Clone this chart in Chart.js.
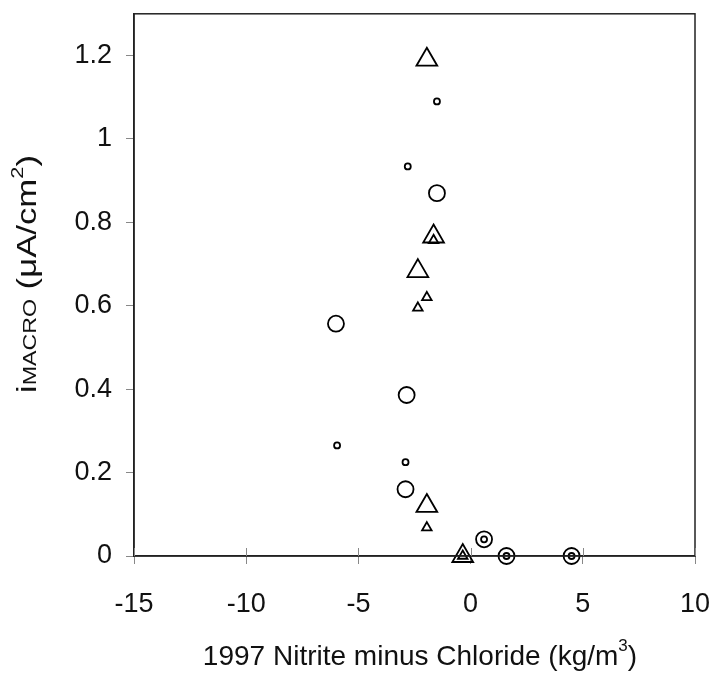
<!DOCTYPE html>
<html>
<head>
<meta charset="utf-8">
<script src="https://cdn.jsdelivr.net/npm/chart.js@4.4.0/dist/chart.umd.min.js"></script>
<style>
  html, body { margin: 0; padding: 0; background: #fff; }
  #wrap { width: 713px; height: 679px; }
</style>
</head>
<body>
<div id="wrap"><canvas id="canvas" width="713" height="679"></canvas></div>
<script>
// data
const bigCircleX = [-1.5, -6.0, -2.85, -2.9, 0.6, 1.6, 4.5];
const bigCircleY = [0.87, 0.557, 0.386, 0.16, 0.04, 0, 0];
const smallCircleX = [-1.5, -2.8, -5.95, -2.9, 0.6, 1.6, 4.5];
const smallCircleY = [1.09, 0.934, 0.265, 0.225, 0.04, 0, 0];
const bigTriX = [-1.95, -1.65, -2.35, -1.95, -0.35];
const bigTriY = [1.19, 0.766, 0.683, 0.12, 0];
const smallTriX = [-1.65, -1.95, -2.35, -1.95, -0.35];
const smallTriY = [0.757, 0.62, 0.595, 0.068, 0];

const xTicks = [-15, -10, -5, 0, 5, 10];
const yTicks = [0, 0.2, 0.4, 0.6, 0.8, 1, 1.2];

const xTitle = '1997 Nitrite minus Chloride (kg/m';
const FONT = "'Liberation Sans', Arial, sans-serif";

function pts(xs, ys) {
    return xs.map((x, i) => ({ x: x, y: ys[i] }));
}

function series(label, xs, ys, style, radius) {
    return {
        label: label,
        data: pts(xs, ys),
        pointStyle: style,
        pointRadius: radius,
        pointHoverRadius: radius,
        pointBorderColor: '#000',
        pointBackgroundColor: 'rgba(0,0,0,0)',
        pointBorderWidth: 1.8,
        showLine: false,
        clip: false
    };
}

// box, inner tick halves and the two axis titles
const extras = {
    id: 'extras',
    afterDraw(chart) {
        const c = chart.ctx;
        const a = chart.chartArea;
        const xs = chart.scales.x;
        c.save();
        c.strokeStyle = '#222';
        c.lineWidth = 1.5;
        c.strokeRect(a.left, a.top, a.right - a.left, a.bottom - a.top);

        // x ticks cross the axis line
        c.strokeStyle = '#888';
        c.lineWidth = 1;
        xTicks.forEach(v => {
            const px = Math.round(xs.getPixelForValue(v)) + 0.5;
            c.beginPath();
            c.moveTo(px, a.bottom - 8);
            c.lineTo(px, a.bottom);
            c.stroke();
        });

        c.fillStyle = '#111';
        c.textBaseline = 'middle';

        // x title with superscript
        c.font = '28px ' + FONT;
        const w1 = c.measureText(xTitle).width;
        c.font = '17px ' + FONT;
        const w2 = c.measureText('3').width;
        c.font = '28px ' + FONT;
        const w3 = c.measureText(')').width;
        let x0 = 420 - (w1 + w2 + w3) / 2;
        const ty = 657;
        c.textAlign = 'left';
        c.fillText(xTitle, x0, ty);
        c.font = '17px ' + FONT;
        c.fillText('3', x0 + w1, ty - 11);
        c.font = '28px ' + FONT;
        c.fillText(')', x0 + w1 + w2, ty);

        // y title, rotated, mixed sizes, stretched along its length
        const parts = [
            ['i', 27, 0],
            ['MACRO', 18, 2],
            [' (\u03bcA/cm', 27, 0],
            ['2', 17, -11],
            [')', 27, 0]
        ];
        let total = 0;
        parts.forEach(p => {
            c.font = p[1] + 'px ' + FONT;
            p.push(c.measureText(p[0]).width);
            total += p[3];
        });
        c.translate(29, 274);
        c.rotate(-Math.PI / 2);
        c.scale(238 / total, 1);
        let px = -total / 2;
        parts.forEach(p => {
            c.font = p[1] + 'px ' + FONT;
            c.fillText(p[0], px, p[2]);
            px += p[3];
        });
        c.restore();
    }
};

const ctx = document.getElementById('canvas').getContext('2d');
new Chart(ctx, {
    type: 'scatter',
    data: {
        datasets: [
            series('large circle', bigCircleX, bigCircleY, 'circle', 8),
            series('small circle', smallCircleX, smallCircleY, 'circle', 3),
            series('large triangle', bigTriX, bigTriY, 'triangle', 12),
            series('small triangle', smallTriX, smallTriY, 'triangle', 5.5)
        ]
    },
    options: {
        responsive: false,
        animation: false,
        layout: { padding: { top: 10, right: 18, left: 0, bottom: 0 } },
        plugins: {
            legend: { display: false },
            tooltip: { enabled: false }
        },
        scales: {
            x: {
                type: 'linear',
                min: -15,
                max: 10,
                afterBuildTicks: s => { s.ticks = xTicks.map(v => ({ value: v })); },
                afterFit: s => { s.height = 123; s.paddingLeft = 0; s.paddingRight = 0; },
                ticks: {
                    color: '#111',
                    font: { family: FONT, size: 27 },
                    padding: 24,
                    maxRotation: 0
                },
                grid: { drawOnChartArea: false, tickLength: 8, color: '#888', tickColor: '#888' },
                border: { display: true, color: '#222', width: 1.5 }
            },
            y: {
                type: 'linear',
                min: 0,
                max: 1.3,
                afterBuildTicks: s => { s.ticks = yTicks.map(v => ({ value: v })); },
                afterFit: s => { s.width = 134; s.paddingTop = 0; s.paddingBottom = 0; },
                ticks: {
                    color: '#111',
                    font: { family: FONT, size: 27 },
                    padding: 14,
                    callback: v => String(Math.round(v * 10) / 10)
                },
                grid: { drawOnChartArea: false, tickLength: 8, color: '#888', tickColor: '#888' },
                border: { display: true, color: '#222', width: 1.5 }
            }
        }
    },
    plugins: [extras]
});
</script>
</body>
</html>
